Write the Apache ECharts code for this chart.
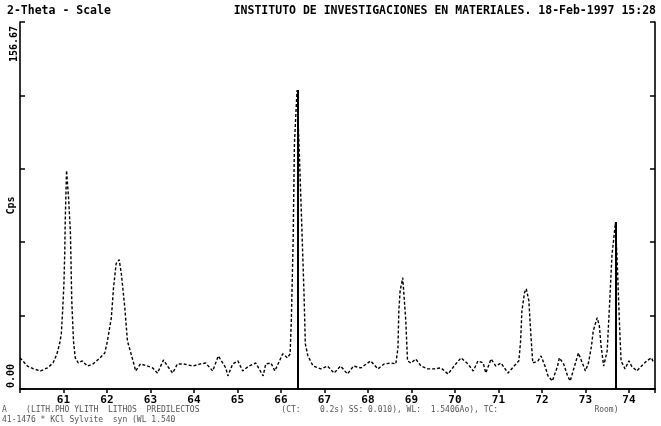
<!DOCTYPE html>
<html>
<head>
<meta charset="utf-8">
<script src="https://cdn.jsdelivr.net/npm/echarts@6/dist/echarts.min.js"></script>
<style>
  html, body { margin: 0; padding: 0; background: #fff; }
  #chartDom { width: 661px; height: 426px; }
</style>
</head>
<body>
<div id="chartDom"></div>
<script>
// 2-theta positions (deg) and counts
const twoTheta = [
  60.00, 60.17, 60.31, 60.47, 60.63, 60.76, 60.85, 60.91, 60.95, 60.98,
  61.01, 61.03, 61.04, 61.07, 61.12, 61.16, 61.19, 61.23, 61.27, 61.34,
  61.43, 61.55, 61.68, 61.84, 61.95, 62.01, 62.10, 62.15, 62.21, 62.28,
  62.33, 62.41, 62.47, 62.58, 62.66, 62.77, 62.93, 63.05, 63.16, 63.30,
  63.39, 63.51, 63.62, 63.76, 63.97, 64.15, 64.27, 64.43, 64.56, 64.73,
  64.78, 64.89, 65.01, 65.12, 65.26, 65.42, 65.59, 65.65, 65.77, 65.86,
  66.04, 66.15, 66.21, 66.24, 66.28, 66.31, 66.37, 66.42, 66.48, 66.53,
  66.56, 66.62, 66.74, 66.92, 67.07, 67.22, 67.37, 67.53, 67.67, 67.84,
  68.06, 68.23, 68.37, 68.53, 68.64, 68.69, 68.71, 68.74, 68.80, 68.87,
  68.91, 68.99, 69.10, 69.22, 69.38, 69.52, 69.68, 69.84, 70.02, 70.14,
  70.30, 70.42, 70.53, 70.65, 70.71, 70.83, 70.94, 71.06, 71.22, 71.36,
  71.47, 71.51, 71.54, 71.60, 71.64, 71.70, 71.74, 71.79, 71.91, 71.98,
  72.07, 72.14, 72.24, 72.36, 72.40, 72.50, 72.59, 72.65, 72.75, 72.84,
  72.91, 73.00, 73.07, 73.14, 73.18, 73.27, 73.32, 73.36, 73.42, 73.50,
  73.56, 73.61, 73.69, 73.73, 73.78, 73.82, 73.91, 74.00, 74.06, 74.18,
  74.29, 74.41, 74.52, 74.57
];
const cps = [
  13.3, 9.8, 8.6, 7.7, 9.0, 11.1, 15.0, 19.3, 23.5, 33.4,
  44.9, 59.1, 71.9, 93.3, 80.5, 66.3, 37.7, 20.5, 13.3, 11.1,
  12.0, 9.8, 10.7, 13.3, 15.4, 20.5, 30.4, 43.2, 53.5, 55.2,
  49.2, 34.7, 20.5, 13.3, 7.7, 10.7, 9.8, 9.0, 6.8, 12.4,
  9.8, 6.8, 10.7, 10.7, 9.8, 10.7, 11.1, 7.7, 14.1, 9.0,
  5.6, 10.7, 12.0, 7.7, 9.8, 11.1, 5.6, 10.7, 11.1, 7.7,
  15.0, 13.3, 15.0, 30.4, 63.3, 104.9, 127.5, 101.9, 68.9, 40.7,
  19.3, 14.1, 9.8, 8.6, 9.8, 6.8, 9.8, 6.4, 9.8, 9.0,
  12.0, 8.6, 10.7, 11.1, 10.7, 17.5, 33.4, 41.9, 47.5, 29.1,
  12.0, 11.1, 12.8, 9.8, 8.6, 8.6, 9.0, 6.4, 10.7, 13.3,
  10.7, 7.7, 12.0, 11.1, 6.8, 12.8, 9.8, 11.1, 6.8, 9.8,
  12.0, 20.5, 33.4, 41.1, 42.8, 37.7, 24.8, 11.1, 12.0, 14.1,
  9.8, 5.6, 3.4, 9.8, 13.3, 10.7, 5.6, 3.4, 9.8, 15.4,
  12.0, 7.7, 11.1, 18.4, 24.8, 30.4, 27.0, 18.4, 9.8, 16.3,
  37.7, 56.9, 71.0, 54.8, 29.1, 12.0, 8.6, 12.0, 9.8, 7.7,
  9.8, 12.0, 13.3, 11.1
];
// reference card sticks (41-1476 KCl Sylvite)
const stickPos = [66.38, 73.70];
const stickCps = [127.6, 71.3];

const xMin = 60, xMax = 74.6;
const yMin = 0, yMax = 156.67;
const yLabels = ['0.00', '156.67'];

const titleLeft = '2-Theta - Scale';
const titleRight = 'INSTITUTO DE INVESTIGACIONES EN MATERIALES. 18-Feb-1997 15:28';
const footLine1 = 'A    (LITH.PHO YLITH  LITHOS  PREDILECTOS                 (CT:    0.2s) SS: 0.010), WL:  1.5406Ao), TC:                    Room)';
const footLine2 = '41-1476 * KCl Sylvite  syn (WL 1.540';

const mono = '"DejaVu Sans Mono", monospace';

let chart = echarts.init(document.getElementById('chartDom'));

const axisLine = { show: true, lineStyle: { color: '#000', width: 1.6 } };

chart.setOption({
  animation: false,
  backgroundColor: '#fff',
  grid: { left: 20, right: 6, top: 22, bottom: 37, containLabel: false, outerBoundsMode: 'none' },
  xAxis: [
    {
      type: 'value', min: xMin, max: xMax, interval: 1, position: 'bottom',
      axisLine: axisLine,
      axisTick: { show: true, inside: false, length: 3, lineStyle: { color: '#000', width: 1.5 } },
      axisLabel: {
        margin: 6, color: '#000', fontFamily: mono, fontWeight: 'bold', fontSize: 11,
        showMinLabel: false, showMaxLabel: false,
        formatter: (v) => String(Math.round(v))
      },
      splitLine: { show: false }
    },
    {
      type: 'value', min: xMin, max: xMax, interval: 1, position: 'top',
      axisLine: axisLine,
      axisTick: { show: true, inside: true, length: 4, lineStyle: { color: '#000', width: 1.5 } },
      axisLabel: { show: false },
      splitLine: { show: false }
    }
  ],
  yAxis: [
    {
      type: 'value', min: yMin, max: yMax, interval: yMax / 5, position: 'left',
      name: 'Cps', nameLocation: 'middle', nameRotate: 90, nameGap: 4,
      nameTextStyle: { color: '#000', fontFamily: mono, fontWeight: 'bold', fontSize: 10 },
      axisLine: axisLine,
      axisTick: { show: true, inside: true, length: 5, lineStyle: { color: '#000', width: 1.5 } },
      axisLabel: { show: false },
      splitLine: { show: false }
    },
    {
      type: 'value', min: yMin, max: yMax, interval: yMax / 5, position: 'right',
      axisLine: axisLine,
      axisTick: { show: true, inside: true, length: 5, lineStyle: { color: '#000', width: 1.5 } },
      axisLabel: { show: false },
      splitLine: { show: false }
    }
  ],
  series: [
    {
      name: 'scan',
      type: 'line',
      xAxisIndex: 0, yAxisIndex: 0,
      showSymbol: false,
      lineStyle: { color: '#000', width: 1.4, type: [3, 2] },
      data: twoTheta.map((t, i) => [t, cps[i]]),
      markLine: {
        silent: true,
        symbol: 'none',
        label: { show: false },
        lineStyle: { color: '#000', width: 2, type: 'solid' },
        data: stickPos.map((p, i) => [{ coord: [p, 0] }, { coord: [p, stickCps[i]] }])
      }
    }
  ]
});

// rotated y-axis end labels and header/footer text
const yBottom = chart.convertToPixel({ yAxisIndex: 0 }, yMin);
const yTop = chart.convertToPixel({ yAxisIndex: 0 }, yMax);
const lblStyle = { fill: '#000', font: 'bold 10px ' + mono, textVerticalAlign: 'middle' };

chart.setOption({
  graphic: [
    { type: 'text', x: 11, y: yBottom - 1, rotation: Math.PI / 2,
      style: Object.assign({ text: yLabels[0], textAlign: 'left' }, lblStyle) },
    { type: 'text', x: 14, y: yTop + 4, rotation: Math.PI / 2,
      style: Object.assign({ text: yLabels[1], textAlign: 'right' }, lblStyle) },
    { type: 'text', x: 7, y: 11,
      style: { text: titleLeft, fill: '#000', font: 'bold 11.5px ' + mono, textVerticalAlign: 'middle' } },
    { type: 'text', x: 656, y: 11,
      style: { text: titleRight, fill: '#000', font: 'bold 11.5px ' + mono, textAlign: 'right', textVerticalAlign: 'middle' } },
    { type: 'text', x: 2, y: 410,
      style: { text: footLine1, fill: '#555', font: '8px ' + mono, textVerticalAlign: 'middle' } },
    { type: 'text', x: 2, y: 420,
      style: { text: footLine2, fill: '#555', font: '8px ' + mono, textVerticalAlign: 'middle' } }
  ]
});
</script>
</body>
</html>
